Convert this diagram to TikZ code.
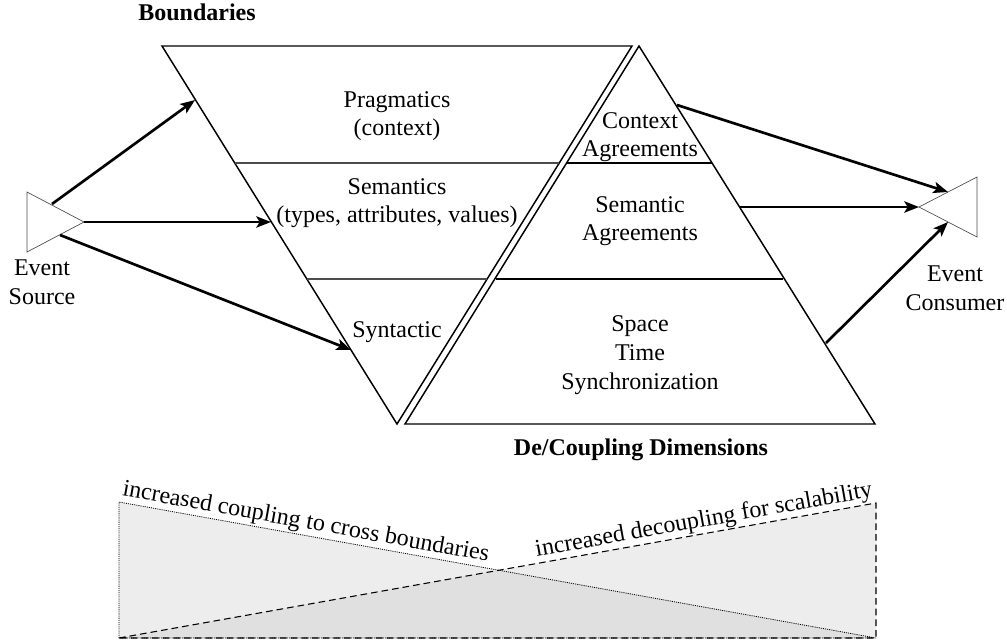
\documentclass[tikz,border=0pt]{standalone}
\usepackage{fontspec}
\setmainfont{Liberation Serif}
\usetikzlibrary{arrows.meta}
\begin{document}
\begin{tikzpicture}[x=0.75pt,y=-0.75pt,
    every node/.style={font=\fontsize{18}{21.5}\selectfont, align=center},
    wall/.style={line width=1.1pt},
    band/.style={line width=0.9pt, black!70},
    flow/.style={-{Stealth[length=11pt,width=8.5pt,inset=2.5pt]}, line width=2pt},
    port/.style={draw=black!70, line width=0.5pt},
    lean/.style={sloped, inner sep=1pt}]
  \useasboundingbox (0,0) rectangle (1007,640);
  %wedges below
  \coordinate (cTop) at (119,502);
  \coordinate (cLow) at (119,638);
  \coordinate (dTop) at (876,503);
  \coordinate (dLow) at (876,638);
  \coordinate (mid) at (499,570);
  \fill[gray!14] (cTop) -- (dLow) -- (cLow) -- cycle;
  \fill[gray!14] (cLow) -- (dTop) -- (dLow) -- cycle;
  \fill[gray!24] (cLow) -- (mid) -- (dLow) -- cycle;
  \draw[line width=0.6pt, dash pattern=on 0.8pt off 0.8pt] (cLow) -- (cTop) -- (dLow) -- (cLow);
  \draw[line width=0.8pt, dash pattern=on 5pt off 3pt] (cLow) -- (dTop) -- (dLow) -- (cLow);
  \path (cTop) -- (dLow) node[lean, pos=0, anchor=south west] (cpl) {increased coupling to cross boundaries};
  \path (cLow) -- (dTop) node[lean, pos=1, anchor=south east] (dcpl) {increased decoupling for scalability};
  %boundaries
  \coordinate (b1) at (162,46);
  \coordinate (b2) at (632,46);
  \coordinate (b3) at (397,424);
  \draw[wall] (b1) -- (b2) -- (b3) -- cycle;
  \draw[band] (235,163) -- (559,163);
  \draw[band] (307,279) -- (487,279);
  \node (prag) at (397,116) {Pragmatics\\(context)};
  \node (sem) at (397,203) {Semantics\\(types, attributes, values)};
  \node (syn) at (397,332) {Syntactic};
  \node[font=\fontsize{18}{21.5}\selectfont\bfseries] (bnd) at (197,12) {Boundaries};
  %de/coupling
  \coordinate (d1) at (639,46);
  \coordinate (d2) at (405,424);
  \coordinate (d3) at (875,424);
  \draw[wall] (d1) -- (d2) -- (d3) -- cycle;
  \draw[wall] (567,163) -- (712,163);
  \draw[wall] (496,279) -- (783,279);
  \node (ctxagr) at (640,137) {Context\\Agreements};
  \node (semagr) at (640,221) {Semantic\\Agreements};
  \node (sts) at (640,355) {Space\\Time\\Synchronization};
  \node[font=\fontsize{18}{21.5}\selectfont\bfseries] (dcd) at (641,450) {De/Coupling Dimensions};
  %source and consumer
  \draw[port] (27,192) -- (84,222) -- (27,252) -- cycle;
  \draw[port] (977,177) -- (919,207) -- (977,237) -- cycle;
  \node (src) at (42,282) {Event\\Source};
  \node (cons) at (955,288) {Event\\Consumer};
  %arrows
  \coordinate (s1) at (52,204);
  \coordinate (s2) at (84,222);
  \coordinate (s3) at (60,235);
  \coordinate (h1) at (195,100);
  \coordinate (h2) at (271,222);
  \coordinate (h3) at (351,350);
  \coordinate (o1) at (677,105);
  \coordinate (o2) at (739,207);
  \coordinate (o3) at (826,343);
  \coordinate (k1) at (948,192);
  \coordinate (k2) at (919,207);
  \coordinate (k3) at (948,222);
  \draw[flow] (s1) -- (h1);
  \draw[flow] (s2) -- (h2);
  \draw[flow] (s3) -- (h3);
  \draw[flow] (o1) -- (k1);
  \draw[flow] (o2) -- (k2);
  \draw[flow] (o3) -- (k3);
\end{tikzpicture}
\end{document}
